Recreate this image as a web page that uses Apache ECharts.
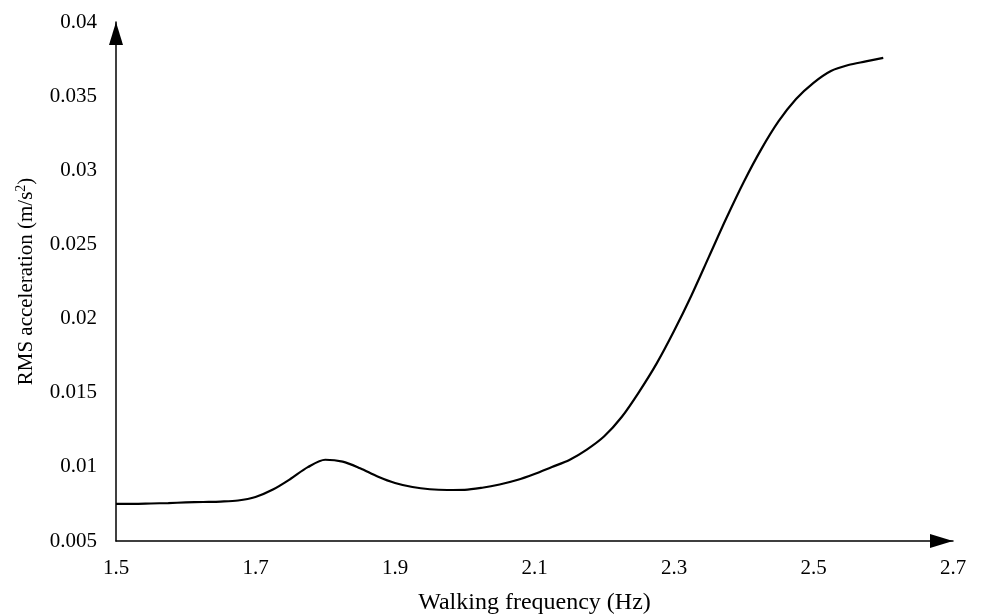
<!DOCTYPE html>
<html>
<head>
<meta charset="utf-8">
<script src="https://cdn.jsdelivr.net/npm/echarts@6/dist/echarts.min.js"></script>
<style>
html,body{margin:0;padding:0;background:#fff;}
#c{width:981px;height:615px;}
</style>
</head>
<body>
<div id="c"></div>
<script>
// Data (frequency in Hz, every 0.025 Hz)
const frequency = [
  1.5, 1.525, 1.55, 1.575, 1.6, 1.625, 1.65, 1.675, 1.7, 1.725,
  1.75, 1.775, 1.8, 1.825, 1.85, 1.875, 1.9, 1.925, 1.95, 1.975,
  2.0, 2.025, 2.05, 2.075, 2.1, 2.125, 2.15, 2.175, 2.2, 2.225,
  2.25, 2.275, 2.3, 2.325, 2.35, 2.375, 2.4, 2.425, 2.45, 2.475,
  2.5, 2.525, 2.55, 2.575, 2.6
];
const rmsAcceleration = [
  0.0075, 0.0075, 0.00753, 0.00756, 0.0076, 0.00763, 0.00766, 0.00773, 0.00797, 0.00847,
  0.00918, 0.00998, 0.01048, 0.01035, 0.0099, 0.00935, 0.00891, 0.00864, 0.00849, 0.00844,
  0.00845, 0.00859, 0.00881, 0.00911, 0.00952, 0.00999, 0.01046, 0.01116, 0.01206, 0.01336,
  0.01506, 0.01696, 0.01916, 0.02156, 0.02416, 0.02676, 0.02921, 0.03141, 0.03331, 0.03481,
  0.0359, 0.0367, 0.0371, 0.03734, 0.03758
];
const xTickLabels = ['1.5', '1.7', '1.9', '2.1', '2.3', '2.5', '2.7'];
const xTitle = 'Walking frequency (Hz)';
const yTitle = 'RMS acceleration (m/s{sup|2})';

const font = 'Liberation Serif';
const chart = echarts.init(document.getElementById('c'), null, {renderer: 'canvas'});
const points = frequency.map((f, i) => [f, rmsAcceleration[i]]);

chart.setOption({
  animation: false,
  backgroundColor: '#fff',
  grid: {left: 116, right: 28, top: 22, bottom: 74, containLabel: false, outerBoundsMode: 'none'},
  xAxis: {
    type: 'value', min: 1.5, max: 2.7, interval: 0.1,
    name: xTitle, nameLocation: 'middle', nameGap: 50,
    nameTextStyle: {fontFamily: font, fontSize: 24, color: '#000'},
    axisLine: {show: true, lineStyle: {color: '#000', width: 1.5}, symbol: ['none', 'triangle'], symbolSize: [14, 23], symbolOffset: [0, -11.5]},
    axisTick: {show: false},
    splitLine: {show: false},
    axisLabel: {
      fontFamily: font, fontSize: 21, color: '#000', margin: 17, showMinLabel: true, showMaxLabel: true,
      formatter: function (v) {
        const s = v.toFixed(1);
        return xTickLabels.indexOf(s) >= 0 ? s : '';
      }
    }
  },
  yAxis: {
    type: 'value', min: 0.005, max: 0.04, interval: 0.005,
    name: yTitle, nameLocation: 'middle', nameGap: 78, nameRotate: 90,
    nameTextStyle: {
      fontFamily: font, fontSize: 21, color: '#000', lineHeight: 24,
      rich: {sup: {fontFamily: font, fontSize: 14, lineHeight: 16, verticalAlign: 'top', color: '#000'}}
    },
    axisLine: {show: true, lineStyle: {color: '#000', width: 1.5}, symbol: ['none', 'triangle'], symbolSize: [14, 23], symbolOffset: [0, -11.5]},
    axisTick: {show: false},
    splitLine: {show: false},
    axisLabel: {
      fontFamily: font, fontSize: 21, color: '#000', margin: 19,
      formatter: function (v) { return String(parseFloat(v.toFixed(3))); }
    }
  },
  series: [{
    type: 'line',
    data: points,
    smooth: 0.3,
    showSymbol: false,
    lineStyle: {color: '#000', width: 2.2}
  }]
});
</script>
</body>
</html>
